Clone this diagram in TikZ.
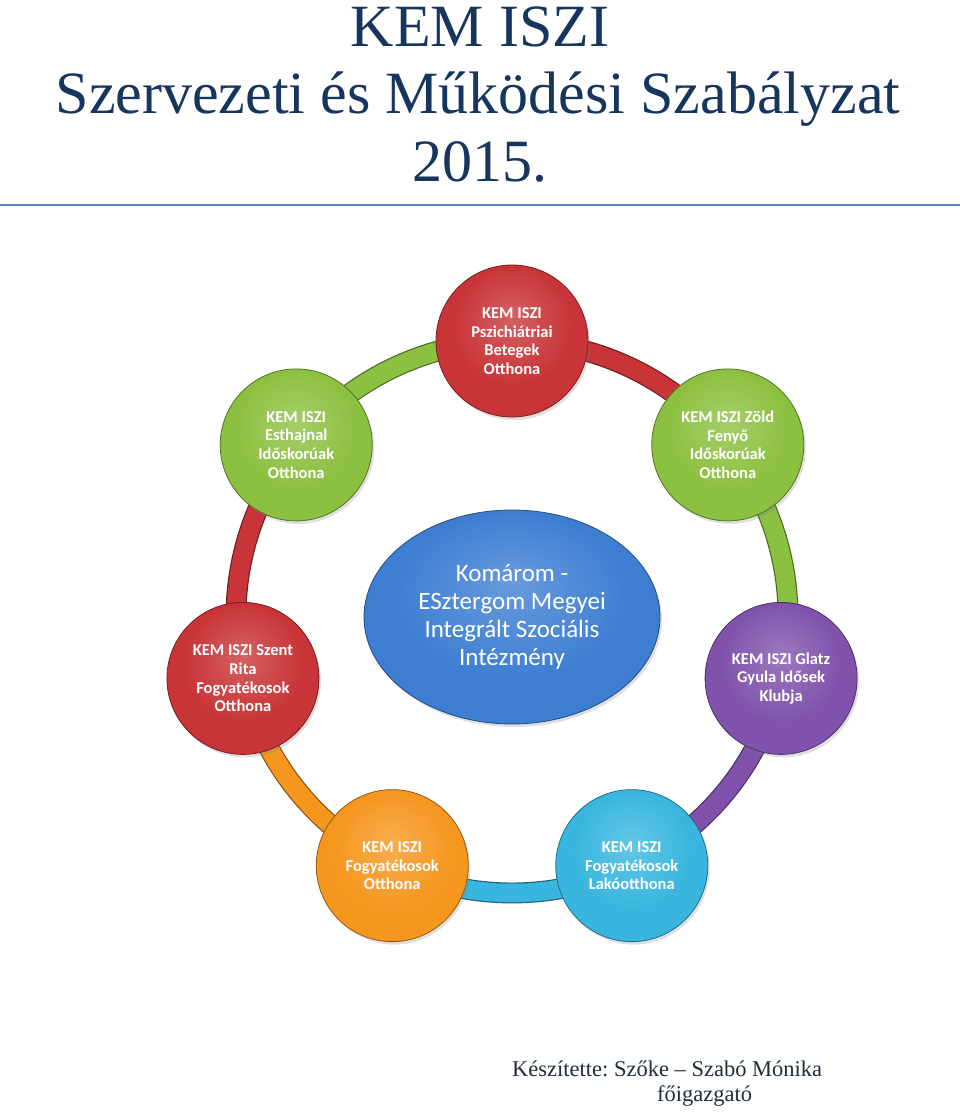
\documentclass[tikz,border=0pt]{standalone}
\usepackage{fontspec}
\setmainfont{Liberation Serif}
\newfontfamily\calibri{Carlito}
\usetikzlibrary{shapes.geometric,shadows}
\frenchspacing
\definecolor{titleblue}{HTML}{17365D}
\definecolor{rulecol}{HTML}{4F81BD}
\definecolor{authorcol}{HTML}{1F2D3D}
\definecolor{cRed}{HTML}{C83437}
\definecolor{cGreen}{HTML}{8CC040}
\definecolor{cPurple}{HTML}{8052AC}
\definecolor{cCyan}{HTML}{38B6DF}
\definecolor{cOrange}{HTML}{F5961F}
\definecolor{cBlue}{HTML}{3D7ED2}
\colorlet{ballA}{white}\colorlet{ballB}{gray}\colorlet{ballC}{black}
\pgfdeclareradialshading[ballA,ballB,ballC]{glossy}{\pgfpoint{0bp}{8bp}}{color(0bp)=(ballA); color(20bp)=(ballB); color(30bp)=(ballB); color(36bp)=(ballC); color(50bp)=(ballC)}
\pgfdeclarelayer{background}
\pgfsetlayers{background,main}
\newcommand\setball[1]{\colorlet{ballA}{#1!78!white}\colorlet{ballB}{#1}\colorlet{ballC}{#1!80!black}}
\tikzset{
  ball/.style={circle, minimum size=152pt, inner sep=0pt, shading=glossy,
    draw=#1!60!black, line width=0.8pt, align=center, text=white,
    font=\calibri\bfseries\fontsize{16.5}{18.6}\selectfont,
    drop shadow={opacity=0.25, shadow xshift=2pt, shadow yshift=-3pt}},
  hub/.style={ellipse, minimum width=296pt, minimum height=214pt, inner sep=0pt,
    shading=glossy, draw=cBlue!60!black, line width=0.8pt, align=center, text=white,
    font=\calibri\fontsize{25}{27.7}\selectfont,
    drop shadow={opacity=0.25, shadow xshift=2pt, shadow yshift=-3pt}},
  pipe/.style={line width=1.2pt, draw=#1!55!black, double=#1, double distance=18.5pt},
  titletext/.style={text=titleblue, font=\fontsize{60}{66}\selectfont, inner sep=0pt, anchor=base},
  authortext/.style={text=authorcol, font=\fontsize{22.5}{25}\selectfont, inner sep=0pt, anchor=base west},
}
\begin{document}
\begin{tikzpicture}[x=1pt,y=1pt]
\useasboundingbox (0,0) rectangle (960,1113);
% title
\node[titletext] (t1) at (480,1066) {KEM ISZI};
\node[titletext] (t2) at (478,999) {Szervezeti és Működési Szabályzat};
\node[titletext] (t3) at (480,931) {2015.};
\coordinate (rl) at (0,908);
\coordinate (rr) at (960,908);
\draw[rulecol, line width=2.5pt] (rl) -- (rr);
% diagram
\coordinate (ctr) at (512,496);
\setball{cBlue}
\node[hub] (hub) at (ctr) {Komárom -\\ESztergom Megyei\\Integrált Szociális\\Intézmény};
\setball{cRed}
\node[ball=cRed] (n0) at ([shift={(90:276)}]ctr) {KEM ISZI\\Pszichiátriai\\Betegek\\Otthona};
\setball{cGreen}
\node[ball=cGreen] (n1) at ([shift={(38.571:276)}]ctr) {KEM ISZI Zöld\\Fenyő\\Időskorúak\\Otthona};
\setball{cPurple}
\node[ball=cPurple] (n2) at ([shift={(-12.857:276)}]ctr) {KEM ISZI Glatz\\Gyula Idősek\\Klubja};
\setball{cCyan}
\node[ball=cCyan] (n3) at ([shift={(-64.286:276)}]ctr) {KEM ISZI\\Fogyatékosok\\Lakóotthona};
\setball{cOrange}
\node[ball=cOrange] (n4) at ([shift={(-115.714:276)}]ctr) {KEM ISZI\\Fogyatékosok\\Otthona};
\setball{cRed}
\node[ball=cRed] (n5) at ([shift={(-167.143:276)}]ctr) {KEM ISZI Szent\\Rita\\Fogyatékosok\\Otthona};
\setball{cGreen}
\node[ball=cGreen] (n6) at ([shift={(141.429:276)}]ctr) {KEM ISZI\\Esthajnal\\Időskorúak\\Otthona};
\begin{pgfonlayer}{background}
\draw[pipe=cRed] (n0.center) to[bend left=25.7, looseness=0.9] (n1.center);
\draw[pipe=cGreen] (n1.center) to[bend left=25.7, looseness=0.9] (n2.center);
\draw[pipe=cPurple] (n2.center) to[bend left=25.7, looseness=0.9] (n3.center);
\draw[pipe=cCyan] (n3.center) to[bend left=25.7, looseness=0.9] (n4.center);
\draw[pipe=cOrange] (n4.center) to[bend left=25.7, looseness=0.9] (n5.center);
\draw[pipe=cRed] (n5.center) to[bend left=25.7, looseness=0.9] (n6.center);
\draw[pipe=cGreen] (n6.center) to[bend left=25.7, looseness=0.9] (n0.center);
\end{pgfonlayer}
% author
\node[authortext] (a1) at (512,36) {Készítette: Szőke – Szabó Mónika};
\node[authortext] (a2) at (657,11) {főigazgató};
\end{tikzpicture}
\end{document}
